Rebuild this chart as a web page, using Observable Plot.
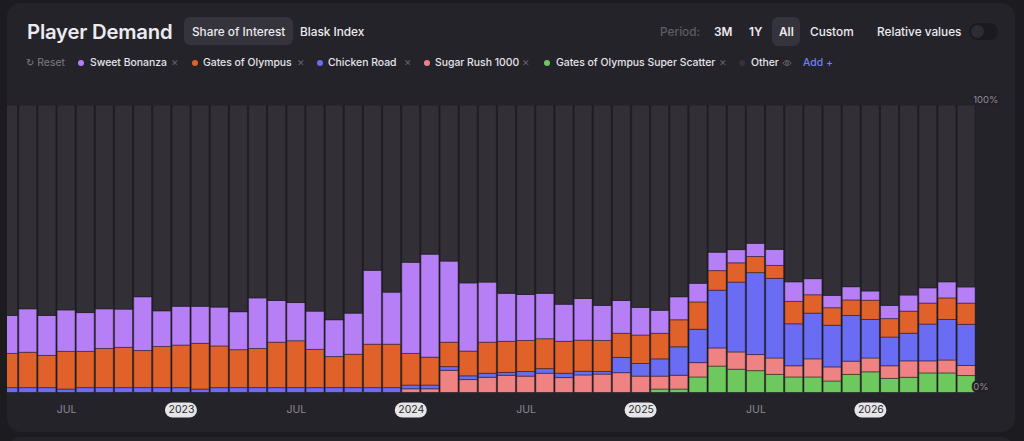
<!DOCTYPE html>
<html><head><meta charset="utf-8">
<script src="https://cdn.jsdelivr.net/npm/d3@7"></script>
<script src="https://cdn.jsdelivr.net/npm/@observablehq/plot@0.6"></script>
<style>
html,body{margin:0;padding:0;background:#1c1b20;width:1024px;height:441px;overflow:hidden;font-family:Inter,"Noto Sans",sans-serif;}
.panel{position:absolute;left:7px;width:1008px;background:#25232a;border-radius:14px;}
.t{position:absolute;white-space:nowrap;color:#ecebef;}
.h{top:23px;font-size:11.8px;line-height:18px;font-weight:500;}
.btn{position:absolute;background:#35333b;border-radius:6px;}
.leg{position:absolute;top:55px;height:16px;line-height:16px;font-size:10.4px;font-weight:500;color:#e6e5ea;white-space:nowrap;}
.dot{position:absolute;top:60px;width:6px;height:6px;border-radius:3px;}
.x{position:absolute;top:55px;height:16px;line-height:16px;font-size:9px;color:#66646d;}
#chart{position:absolute;left:0;top:90px;}
</style></head>
<body>
<div class="panel" style="top:3px;height:429px;"></div>
<div class="panel" style="top:437px;height:40px;"></div>

<div class="t" style="left:27px;top:17px;font-size:20.3px;line-height:30px;font-weight:600;letter-spacing:-0.2px;">Player Demand</div>
<div class="btn" style="left:184px;top:17px;width:109px;height:28px;"></div>
<div class="t h" style="left:192px;">Share of Interest</div>
<div class="t h" style="left:300px;">Blask Index</div>

<div class="t h" style="left:660px;color:#5e5c65;">Period:</div>
<div class="t h" style="left:714px;font-weight:600;">3M</div>
<div class="t h" style="left:749px;font-weight:600;">1Y</div>
<div class="btn" style="left:772px;top:17px;width:28px;height:29px;"></div>
<div class="t h" style="left:779px;font-weight:600;">All</div>
<div class="t h" style="left:810px;">Custom</div>
<div class="t h" style="left:877px;">Relative values</div>
<div style="position:absolute;left:969px;top:23px;width:29px;height:17px;border-radius:9px;background:#1b1a1f;"></div>
<div style="position:absolute;left:971px;top:25px;width:13px;height:13px;border-radius:7px;background:#2e2c33;"></div>

<div id="legend"></div>
<div id="chart"></div>

<script>
// ---- data ----
const months = ["2022-04","2022-05","2022-06","2022-07","2022-08","2022-09","2022-10","2022-11","2022-12",
"2023-01","2023-02","2023-03","2023-04","2023-05","2023-06","2023-07","2023-08","2023-09","2023-10","2023-11","2023-12",
"2024-01","2024-02","2024-03","2024-04","2024-05","2024-06","2024-07","2024-08","2024-09","2024-10","2024-11","2024-12",
"2025-01","2025-02","2025-03","2025-04","2025-05","2025-06","2025-07","2025-08","2025-09","2025-10","2025-11","2025-12",
"2026-01","2026-02","2026-03","2026-04","2026-05","2026-06"];

const seriesNames = ["Gates of Olympus Super Scatter","Sugar Rush 1000","Chicken Road","Gates of Olympus","Sweet Bonanza","Other"];
const seriesColors = ["#6dc95e","#ef8383","#6b6cf4","#e0622a","#b67ff6","#332f37"];

const superScatter = [0,0,0,0,0,0,0,0,0,0,0,0,0,0,0,0,0,0,0,0,0,
  0,0,0,0,0,0,0,0,0,0,0,0,0,1.2,1.2,5.4,9.2,8.1,7.6,6.3,5.4,5.4,4.0,6.3,7.2,4.9,5.3,6.8,6.8,5.9];
const sugarRush = [0,0,0,0,0,0,0,0,0,0,0,0,0,0,0,0,0,0,0,0,0,
  1.3,1.3,7.7,4.5,5.3,6.0,5.7,6.7,5.2,6.1,6.4,6.9,5.7,4.5,4.8,5.0,6.3,6.0,5.6,5.7,3.9,6.3,4.9,4.6,4.8,4.4,5.7,4.2,4.5,3.5];
const chickenRoad = [1.7,1.7,1.7,1.2,1.7,1.7,1.7,1.7,1.7,1.7,1.2,1.7,1.7,1.7,1.7,1.7,1.7,1.7,1.7,1.7,1.7,
  1.3,1.3,1.3,1.3,1.4,1.0,1.6,1.6,1.5,1.3,0.9,5.3,4.4,6.0,9.9,11.6,20.1,24.3,28.5,27.7,14.6,15.9,14.5,15.9,13.4,10.0,9.6,12.8,14.1,14.3];
const gatesOfOlympus = [11.9,12.3,11.2,13.1,12.6,13.6,14.0,12.9,14.3,14.8,15.9,14.5,13.2,13.6,15.8,16.3,13.3,10.8,11.6,15.1,15.1,
  11.0,9.7,8.5,8.6,10.8,10.8,10.8,10.4,11.1,10.8,10.8,8.4,9.9,8.9,9.4,9.5,6.8,6.7,5.6,4.5,7.8,6.4,6.1,5.4,6.7,6.4,7.7,7.3,7.5,7.4];
const sweetBonanza = [13.2,15.1,13.9,14.4,13.5,13.8,13.3,18.7,12.4,13.5,12.9,13.5,13.2,17.6,14.5,13.3,13.3,12.8,14.3,25.7,18.1,
  31.7,35.8,28.2,23.7,20.9,16.7,16.0,15.8,12.9,14.5,12.2,11.4,9.6,8.0,8.0,6.5,6.4,4.6,4.6,5.6,6.8,5.6,4.3,4.6,3.2,4.6,5.6,5.3,5.6,5.6];

const tickMonths = ["2022-07","2023-01","2023-07","2024-01","2024-07","2025-01","2025-07","2026-01"];
const tickLabels = ["JUL","2023","JUL","2024","JUL","2025","JUL","2026"];
const yLabels = [100, 0];

// ---- legend (HTML) ----
const legendItems = [
  {name:"Sweet Bonanza", color:"#b67ff6", dot:81, text:90, x:171},
  {name:"Gates of Olympus", color:"#e0622a", dot:195, text:203, x:297},
  {name:"Chicken Road", color:"#6b6cf4", dot:320, text:328, x:404},
  {name:"Sugar Rush 1000", color:"#ef8383", dot:427, text:435, x:522},
  {name:"Gates of Olympus Super Scatter", color:"#6dc95e", dot:547, text:556, x:719}
];
let lh = `<div class="leg" style="left:26px;color:#7f7d86;font-weight:400;"><span style="font-family:'DejaVu Sans';font-size:10px;">&#x21BB;</span> Reset</div>`;
for (const it of legendItems) {
  lh += `<div class="dot" style="left:${it.dot-3}px;background:${it.color}"></div>`;
  lh += `<div class="leg" style="left:${it.text}px;">${it.name}</div>`;
  lh += `<div class="x" style="left:${it.x}px;">&#x2715;</div>`;
}
lh += `<div class="dot" style="left:739px;background:#34323a"></div>`;
lh += `<div class="leg" style="left:751px;">Other</div>`;
lh += `<svg style="position:absolute;left:782px;top:59px" width="10" height="8" viewBox="0 0 10 8"><path d="M0.7 4 Q5 -1 9.3 4 Q5 9 0.7 4Z" fill="none" stroke="#66646d" stroke-width="0.9"/><circle cx="5" cy="4" r="1.4" fill="none" stroke="#66646d" stroke-width="0.9"/></svg>`;
lh += `<div class="leg" style="left:803px;color:#6f7ef2;">Add +</div>`;
document.getElementById("legend").innerHTML = lh;

// ---- chart ----
const seriesValues = [superScatter, sugarRush, chickenRoad, gatesOfOlympus, sweetBonanza];
const table = [];
months.forEach((m, i) => {
  let sum = 0;
  seriesValues.forEach((arr, k) => { table.push({i, month: m, series: seriesNames[k], value: arr[i]}); sum += arr[i]; });
  table.push({i, month: m, series: "Other", value: 100 - sum});
});
const ticks = tickMonths.map((m, k) => ({i: months.indexOf(m), label: tickLabels[k], year: tickLabels[k] !== "JUL"}));

const plot = Plot.plot({
  width: 1024, height: 351,
  marginLeft: 7, marginRight: 48.3, marginTop: 15, marginBottom: 48.5,
  style: {background: "transparent", overflow: "visible", fontFamily: "Inter, sans-serif"},
  x: {type: "linear", domain: [-0.084, 50.5], axis: null},
  y: {domain: [0, 100], axis: null},
  color: {domain: seriesNames, range: seriesColors},
  marks: [
    Plot.rectY(table, Plot.stackY({
      x1: d => d.i - 0.5, x2: d => d.i + 0.5, y: "value", fill: "series",
      order: seriesNames, insetLeft: 0.6, insetRight: 0.6,
      stroke: "#141318", strokeOpacity: 0.45, strokeWidth: 1, clip: true
    })),
    Plot.rect(ticks.filter(d => d.year), {
      x1: "i", x2: "i", y1: 0, y2: 0,
      insetLeft: -16, insetRight: -16, insetTop: 10, insetBottom: -25,
      rx: 7.5, fill: "#e6e6e8"
    }),
    Plot.text(ticks, {
      x: "i", y: 0, text: "label", dy: 17,
      fill: d => d.year ? "#2b2a30" : "#8a8891",
      fontSize: 10.5, fontWeight: d => d.year ? 500 : 400
    }),
    Plot.text(yLabels, {
      y: d => d, text: d => d + "%", frameAnchor: "right", textAnchor: "start",
      dx: -3, dy: -6, fill: "#8f8d96", fontSize: 9.5,
      stroke: "#222026", strokeWidth: 4
    })
  ]
});
document.getElementById("chart").appendChild(plot);
</script>
</body></html>
